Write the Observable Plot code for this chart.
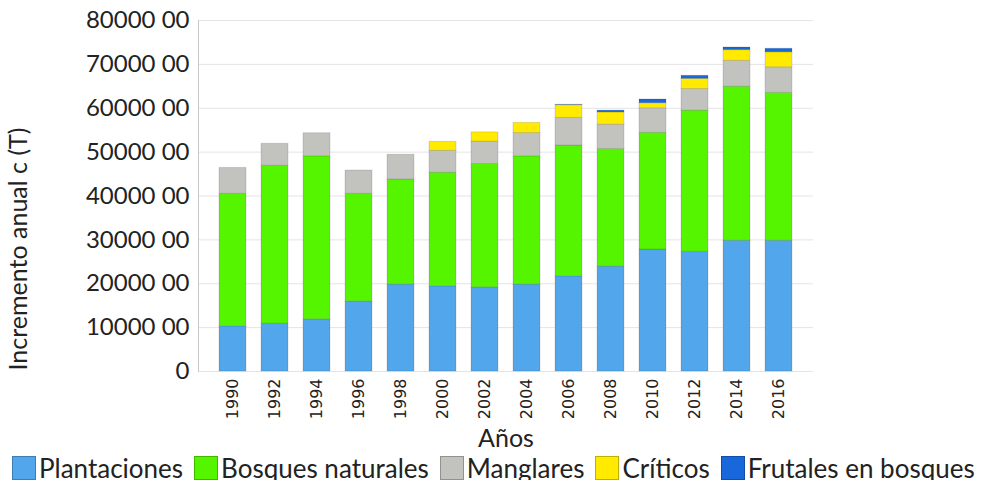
<!DOCTYPE html>
<html><head><meta charset="utf-8">
<script src="https://cdn.jsdelivr.net/npm/d3@7"></script>
<script src="https://cdn.jsdelivr.net/npm/@observablehq/plot@0.6"></script>
<style>
body{margin:0;background:#fff;font-family:Lato,sans-serif;}
#chart svg{display:block;overflow:visible;}
#legend{display:flex;align-items:center;height:24px;line-height:24px;padding-left:12px;font-size:26px;color:#222;white-space:nowrap;}
#legend .item{display:flex;align-items:center;margin-right:11px;height:24px;}
#legend .sw{width:24px;height:24px;margin-right:3px;box-sizing:border-box;border:1px solid rgba(0,0,0,0.25);}
</style></head>
<body>
<div id="chart"></div>
<div id="legend"></div>
<script>
const years = ["1990","1992","1994","1996","1998","2000","2002","2004","2006","2008","2010","2012","2014","2016"];
const plantaciones = [10300,10900,11900,16000,19800,19400,19200,19800,21700,23900,27800,27300,29800,29800];
const bosques = [30200,36000,37150,24500,24000,25900,28100,29250,29800,26800,26600,32150,35100,33700];
const manglares = [5900,5000,5250,5300,5600,5000,5100,5300,6300,5550,5600,4950,5900,5850];
const criticos = [0,0,0,0,0,2050,2100,2300,2900,2800,1150,2300,2450,3400];
const frutales = [0,0,0,0,0,0,0,0,100,400,850,700,600,800];
const seriesNames = ["Plantaciones","Bosques naturales","Manglares","Críticos","Frutales en bosques"];
const seriesColors = ["#52a7ec","#55f500","#c2c2be","#ffea00","#1868dc"];
const yTicks = [0,10000,20000,30000,40000,50000,60000,70000,80000];

const seriesData = [plantaciones,bosques,manglares,criticos,frutales];
const rows = [];
seriesNames.forEach((s,i)=>years.forEach((y,j)=>rows.push({year:y, series:s, value:seriesData[i][j]})));

const chart = Plot.plot({
  width: 985, height: 456,
  marginTop: 20, marginBottom: 85, marginLeft: 198, marginRight: 172,
  style: {fontFamily: "Lato, sans-serif", background: "#fff"},
  x: {domain: years, padding: 0.36, label: null},
  y: {domain: [0, 80000], label: null},
  color: {domain: seriesNames, range: seriesColors},
  marks: [
    Plot.gridY(yTicks, {stroke: "#e4e4e4", strokeOpacity: 1}),
    Plot.frame({anchor: "left", stroke: "#c8c8c8"}),
    Plot.barY(rows, {x: "year", y: "value", fill: "series", order: seriesNames, stroke: "rgba(0,0,0,0.12)", strokeWidth: 1}),
    Plot.axisY(yTicks, {tickSize: 0, tickPadding: 9, fontSize: 24, fill: "#222",
      tickFormat: d => d === 0 ? "0" : `${d} 00`, label: null}),
    Plot.axisX({tickSize: 0, tickPadding: 7, tickRotate: -90, fontSize: 16, fontFamily: "DejaVu Sans", fill: "#222", label: null}),
    Plot.text(["Años"], {frameAnchor: "bottom", dy: 75, fontSize: 25, fill: "#222"}),
    Plot.text(["Incremento anual c (T)"], {frameAnchor: "bottom-left", dx: -172, dy: -1, rotate: -90, textAnchor: "start", fontSize: 25, fill: "#222"})
  ]
});
document.getElementById("chart").appendChild(chart);

const lg = document.getElementById("legend");
seriesNames.forEach((s,i)=>{
  const it = document.createElement("div"); it.className="item";
  const sw = document.createElement("span"); sw.className="sw"; sw.style.background=seriesColors[i];
  const tx = document.createElement("span"); tx.textContent = s;
  it.appendChild(sw); it.appendChild(tx); lg.appendChild(it);
});
</script>
</body></html>
